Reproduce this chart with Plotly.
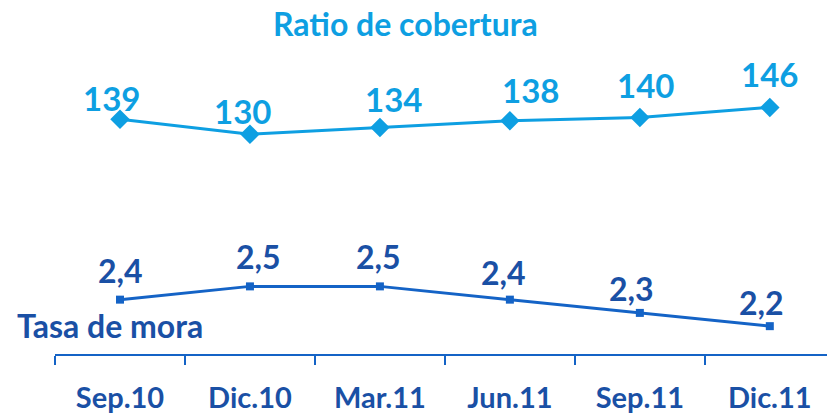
import plotly.graph_objects as go

periodos = ["Sep.10", "Dic.10", "Mar.11", "Jun.11", "Sep.11", "Dic.11"]
ratio_cobertura = [139, 130, 134, 138, 140, 146]
tasa_mora = [2.4, 2.5, 2.5, 2.4, 2.3, 2.2]

# label placement relative to each point (pixels): horizontal shift, vertical lift
ratio_lbl_dx = [-8, -7, 14, 21, 6, 0]
ratio_lbl_dy = [21, 23, 29, 31, 32, 33]
mora_lbl_dx = [1, 9, -1, -6, -8, -8]
mora_lbl_dy = [29, 30, 30, 27, 24, 24]

LIGHT = "#0E9FE2"
DARK_TXT = "#1A50A5"
DARK_LINE = "#1463C6"
FONT = "Lato"

W, H = 827, 414
PLOT_L, PLOT_W = 55, 772
PLOT_T, PLOT_B = 0, 356
PLOT_H = PLOT_B - PLOT_T


def px(xw):
    return (xw - PLOT_L) / PLOT_W


def py(yw):
    return (PLOT_B - yw) / PLOT_H


# value scales (px): ratio 130 -> y135, 1.6875 px/unit; mora 2.5 -> y288, 133.33 px/unit
r_top = 130 + (135 - PLOT_T) / 1.6875
r_bot = 130 - (PLOT_B - 135) / 1.6875
m_top = 2.5 + (288 - PLOT_T) / 133.33
m_bot = 2.5 - (PLOT_B - 288) / 133.33

fig = go.Figure()
fig.add_trace(go.Scatter(
    x=periodos, y=ratio_cobertura, mode="lines+markers",
    line=dict(color=LIGHT, width=3),
    marker=dict(symbol="diamond", size=15, color=LIGHT),
    yaxis="y", showlegend=False, hoverinfo="skip"))
fig.add_trace(go.Scatter(
    x=periodos, y=tasa_mora, mode="lines+markers",
    line=dict(color=DARK_LINE, width=3),
    marker=dict(symbol="square", size=8, color=DARK_LINE),
    yaxis="y2", showlegend=False, hoverinfo="skip"))

ann = []
for p, v, dx, dy in zip(periodos, ratio_cobertura, ratio_lbl_dx, ratio_lbl_dy):
    ann.append(dict(x=p, y=v, xref="x", yref="y", text=str(v), showarrow=False,
                    xshift=dx, yshift=dy,
                    font=dict(family=FONT, size=33, color=LIGHT, weight=700)))
for p, v, dx, dy in zip(periodos, tasa_mora, mora_lbl_dx, mora_lbl_dy):
    ann.append(dict(x=p, y=v, xref="x", yref="y2", text=f"{v:.1f}".replace(".", ","),
                    showarrow=False, xshift=dx, yshift=dy,
                    font=dict(family=FONT, size=32, color=DARK_TXT, weight=700)))
ann.append(dict(x=px(405), y=py(24), xref="paper", yref="paper",
                text="Ratio de cobertura", showarrow=False,
                xanchor="center", yanchor="middle",
                font=dict(family=FONT, size=32, color=LIGHT, weight=700)))
ann.append(dict(x=px(15), y=py(327), xref="paper", yref="paper",
                text="Tasa de mora", showarrow=False,
                xanchor="left", yanchor="middle",
                font=dict(family=FONT, size=32, color=DARK_TXT, weight=700)))

fig.update_layout(
    annotations=ann,
    width=W, height=H,
    margin=dict(l=PLOT_L, r=W - PLOT_L - PLOT_W, t=PLOT_T, b=H - PLOT_B),
    paper_bgcolor="white", plot_bgcolor="white",
    xaxis=dict(type="category", range=[-0.5, 5.44], tickson="boundaries",
               showline=True, linecolor=DARK_LINE, linewidth=2,
               ticks="outside", ticklen=9, tickwidth=1.5, tickcolor=DARK_LINE,
               showgrid=False, zeroline=False, ticklabelstandoff=17,
               tickfont=dict(family=FONT, size=29, color=DARK_TXT, weight=700)),
    yaxis=dict(range=[r_bot, r_top], visible=False, showgrid=False, zeroline=False),
    yaxis2=dict(range=[m_bot, m_top], overlaying="y", visible=False,
                showgrid=False, zeroline=False),
)

fig.write_html("out.html", config={"displayModeBar": False},
               post_script="document.body.style.margin='0';")
